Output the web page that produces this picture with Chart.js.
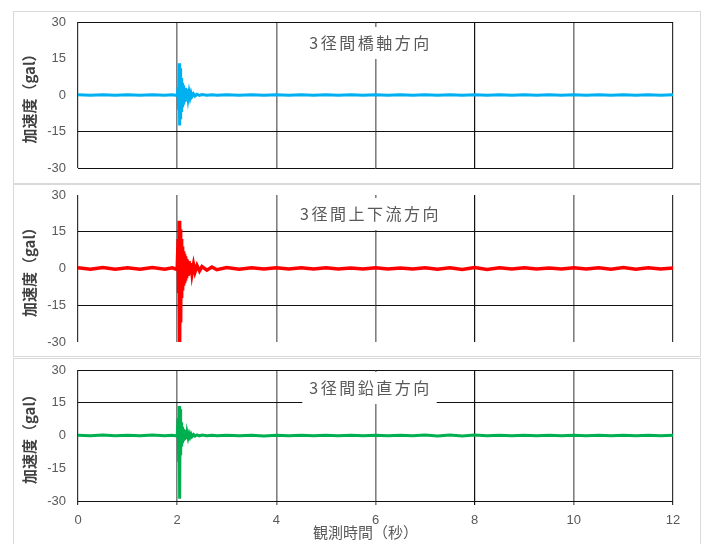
<!DOCTYPE html>
<html>
<head>
<meta charset="utf-8">
<script src="https://cdn.jsdelivr.net/npm/chart.js@4.4.0/dist/chart.umd.min.js"></script>
<style>
  body { margin: 0; background: #fff; width: 707px; height: 544px; overflow: hidden; position: relative; }
  .box { position: absolute; left: 13px; width: 688px; box-sizing: border-box; border: 1px solid #d9d9d9; background: #fff; }
  #b1 { top: 11px; height: 173px; }
  #b2 { top: 184px; height: 173px; }
  #b3 { top: 358px; height: 190px; }
  .box div { position: absolute; left: 0; top: 0; right: 0; bottom: 0; }
</style>
</head>
<body>
<div class="box" id="b1"><div><canvas id="c1"></canvas></div></div>
<div class="box" id="b2"><div><canvas id="c2"></canvas></div></div>
<div class="box" id="b3"><div><canvas id="c3"></canvas></div></div>
<script>
// observation time (s)
const times = [0, 0.25, 0.5, 0.75, 1, 1.25, 1.5, 1.75, 1.9, 2.0,
  2.02, 2.03, 2.04, 2.05, 2.06, 2.07, 2.08, 2.09, 2.10,
  2.11, 2.12, 2.13, 2.14, 2.15, 2.16, 2.17, 2.18, 2.19, 2.20,
  2.22, 2.24, 2.26, 2.28, 2.30, 2.33, 2.36, 2.40, 2.45, 2.5,
  2.6, 2.7, 2.8, 3.0,
  3.25, 3.5, 3.75, 4, 4.25, 4.5, 4.75, 5, 5.25, 5.5, 5.75, 6, 6.25, 6.5, 6.75, 7,
  7.25, 7.5, 7.75, 8, 8.25, 8.5, 8.75, 9, 9.25, 9.5, 9.75, 10, 10.25, 10.5, 10.75, 11,
  11.25, 11.5, 11.75, 12];

// acceleration (gal)
const axialAcc = [0.1, -0.1, 0.1, -0.1, 0.1, -0.1, 0.1, -0.1, 0.1, -0.2,
  3, -6, 13, -12.5, 11, -10, 7, -7, 5,
  -5, 4, -4, 3, -3, 3, -2.5, 2.5, -2, 2,
  -1.5, 1.2, -1, 0.8, -0.6, 0.5, -0.4, 0.3, -0.2, 0.2,
  -0.1, 0.1, -0.1, 0.1,
  -0.1, 0.1, -0.1, 0.1, -0.1, 0.1, -0.1, 0.1, -0.1, 0.1, -0.1, 0.1, -0.1, 0.1, -0.1, 0.1,
  -0.1, 0.1, -0.1, 0.1, -0.1, 0.1, -0.1, 0.1, -0.1, 0.1, -0.1, 0.1, -0.1, 0.1, -0.1, 0.1,
  -0.1, 0.1, -0.1, 0.1];

const streamAcc = [0.3, -0.3, 0.4, -0.3, 0.3, -0.3, 0.4, -0.3, 0.3, -0.4,
  12, -10, 19.5, -30, 16, -22, 12, -12, 9,
  -9, 7, -7, 6, -6, 5, -5, 4, -4, 3.5,
  -3, 3, -2.5, 2.2, -2, 1.6, -1.4, 1.2, -1, 0.8,
  -0.7, 0.6, -0.5, 0.4,
  -0.3, 0.3, -0.2, 0.3, -0.2, 0.3, -0.2, 0.3, -0.2, 0.2, -0.2, 0.3, -0.2, 0.2, -0.2, 0.3,
  -0.3, 0.3, -0.4, 0.4, -0.4, 0.3, -0.2, 0.3, -0.2, 0.2, -0.2, 0.3, -0.2, 0.3, -0.3, 0.4,
  -0.3, 0.3, -0.2, 0.2];

const verticalAcc = [0.1, -0.1, 0.2, -0.1, 0.1, -0.1, 0.2, -0.1, 0.1, -0.2,
  8, -12, 13.5, -29, 12, -9, 6, -5, 4,
  -3.5, 3, -2.5, 2.5, -2, 1.8, -1.6, 1.5, -1.2, 1.2,
  -1, 0.8, -0.7, 0.6, -0.5, 0.4, -0.3, 0.3, -0.2, 0.2,
  -0.1, 0.1, -0.1, 0.1,
  -0.1, 0.1, -0.2, 0.1, -0.1, 0.1, -0.1, 0.1, -0.1, 0.1, -0.1, 0.1, -0.1, 0.1, -0.1, 0.2,
  -0.2, 0.2, -0.2, 0.2, -0.1, 0.1, -0.1, 0.1, -0.1, 0.1, -0.1, 0.1, -0.1, 0.1, -0.1, 0.1,
  -0.1, 0.1, -0.1, 0.1];

const yTicks = [30, 15, 0, -15, -30];
const xTicks = [0, 2, 4, 6, 8, 10, 12];
const titles = ['3径間橋軸方向', '3径間上下流方向', '3径間鉛直方向'];
const yTitle = '加速度（gal）';
const xTitle = '観測時間（秒）';

const panelText = {
  id: 'panelText',
  beforeDatasetsDraw(chart, args, opts) {
    const { ctx, chartArea: a } = chart;
    ctx.save();
    ctx.font = '16px "Noto Sans CJK JP"';
    ctx.letterSpacing = '2.5px';
    const w = ctx.measureText(opts.title).width;
    const cx = (a.left + a.right) / 2 - 6, cy = a.top + opts.titleOffset;
    ctx.fillStyle = '#fff';
    ctx.fillRect(cx - w / 2 - 6, cy - 16, w + 12, 32);
    ctx.fillStyle = '#595959';
    ctx.textAlign = 'center';
    ctx.textBaseline = 'middle';
    ctx.fillText(opts.title, cx + 1, cy);
    ctx.restore();
  },
  afterDraw(chart, args, opts) {
    const { ctx, chartArea: a } = chart;
    ctx.save();
    ctx.translate(a.left - 49, (a.top + a.bottom) / 2);
    ctx.rotate(-Math.PI / 2);
    ctx.font = 'bold 15px "Noto Sans CJK JP"';
    ctx.fillStyle = '#404040';
    ctx.textAlign = 'center';
    ctx.textBaseline = 'middle';
    ctx.fillText(yTitle, 0, 0);
    ctx.restore();
    if (opts.xTitle) {
      ctx.save();
      ctx.font = '15px "Noto Sans CJK JP"';
      const w = ctx.measureText(xTitle).width;
      const cx = (a.left + a.right) / 2 - 10, cy = a.bottom + 31;
      ctx.fillStyle = '#fff';
      ctx.fillRect(cx - w / 2 - 3, cy - 8, w + 6, 20);
      ctx.fillStyle = '#595959';
      ctx.textAlign = 'center';
      ctx.textBaseline = 'middle';
      ctx.fillText(xTitle, cx, cy);
      ctx.restore();
    }
  }
};

function vColor(v) {
  if (v === 8) return '#111';
  if (v === 0 || v === 12) return '#333';
  return '#808080';
}

function makePanel(id, values, color, width, title, titleOffset, hLines, last, padTop, padBottom, xHeight) {
  return new Chart(document.getElementById(id), {
    type: 'line',
    data: {
      datasets: [{
        data: times.map((t, i) => ({ x: t, y: values[i] })),
        borderColor: color,
        borderWidth: width,
        pointRadius: 0,
        tension: 0
      }]
    },
    options: {
      responsive: true,
      maintainAspectRatio: false,
      animation: false,
      layout: { padding: { top: padTop, right: 27, bottom: padBottom, left: 0 } },
      plugins: {
        legend: { display: false },
        tooltip: { enabled: false },
        panelText: { title: title, titleOffset: titleOffset, xTitle: last }
      },
      scales: {
        x: {
          type: 'linear', min: 0, max: 12,
          afterBuildTicks: s => { s.ticks = xTicks.map(v => ({ value: v })); },
          border: { display: false },
          grid: {
            color: c => vColor(c.tick.value),
            lineWidth: c => (vColor(c.tick.value) === '#808080' ? 1.6 : 1.2),
            drawTicks: last, tickLength: 4
          },
          ticks: {
            display: last, padding: 8, maxRotation: 0,
            color: '#595959', font: { family: 'Liberation Sans', size: 13 }
          },
          afterFit: s => { s.height = xHeight; }
        },
        y: {
          min: -30, max: 30,
          afterBuildTicks: s => { s.ticks = yTicks.map(v => ({ value: v })); },
          border: { display: false },
          grid: {
            color: c => (hLines.includes(c.tick.value) ? '#111' : 'rgba(0,0,0,0)'),
            lineWidth: 1, drawTicks: true, tickLength: 12, tickColor: 'rgba(0,0,0,0)'
          },
          ticks: { padding: 0, color: '#595959', font: { family: 'Liberation Sans', size: 13 } },
          afterFit: s => { s.width = 64; }
        }
      }
    },
    plugins: [panelText]
  });
}

makePanel('c1', axialAcc, '#00B0F0', 3, titles[0], 21, [30, -15, -30], false, 10, 15, 0);
makePanel('c2', streamAcc, '#FF0000', 3.5, titles[1], 19, [15, -15], false, 10, 14, 0);
makePanel('c3', verticalAcc, '#00B050', 3, titles[2], 18, [30, 15, -30], true, 11, 0, 46);
</script>
</body>
</html>
